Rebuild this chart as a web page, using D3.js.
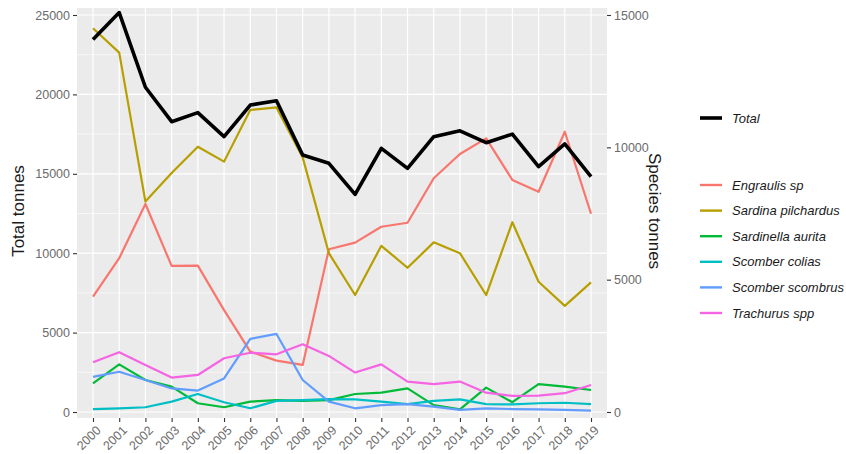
<!DOCTYPE html>
<html>
<head>
<meta charset="utf-8">
<script src="https://cdn.jsdelivr.net/npm/d3@7"></script>
<style>
  html, body { margin: 0; padding: 0; background: #fff; }
  svg { display: block; font-family: "Liberation Sans", Arial, sans-serif; }
</style>
</head>
<body>
<svg id="chart" width="846" height="454"></svg>
<script>
// Annual landings, 2000–2019
const years = ["2000","2001","2002","2003","2004","2005","2006","2007","2008","2009",
               "2010","2011","2012","2013","2014","2015","2016","2017","2018","2019"];

// Total landings (left axis, tonnes)
const total = [23450, 25150, 20450, 18280, 18850, 17340, 19330, 19600, 16180, 15660,
               13700, 16600, 15340, 17340, 17710, 16960, 17500, 15450, 16880, 14820];

// Landings per species (right axis, tonnes)
const engraulis  = [4360, 5810, 7860, 5520, 5530, 3850, 2280, 1940, 1780, 6150,
                    6400, 7000, 7150, 8830, 9750, 10340, 8770, 8320, 10590, 7490];
const sardina    = [14500, 13580, 7950, 9030, 10020, 9460, 11410, 11510, 9620, 6000,
                    4420, 6280, 5450, 6410, 6000, 4420, 7170, 4920, 4010, 4900];
const sardinella = [1080, 1800, 1210, 960, 330, 180, 390, 450, 420, 450,
                    680, 730, 890, 260, 100, 920, 370, 1050, 960, 830];
const colias     = [110, 140, 180, 390, 680, 370, 140, 420, 450, 490,
                    480, 390, 300, 420, 480, 300, 290, 330, 350, 300];
const scombrus   = [1330, 1520, 1210, 890, 810, 1270, 2760, 2950, 1210, 390,
                    140, 260, 300, 200, 80, 140, 110, 100, 80, 50];
const trachurus  = [1880, 2260, 1780, 1300, 1400, 2030, 2240, 2180, 2560, 2120,
                    1490, 1800, 1150, 1050, 1150, 730, 610, 620, 710, 1020];

const speciesNames  = ["Engraulis sp", "Sardina pilchardus", "Sardinella aurita",
                       "Scomber colias", "Scomber scombrus", "Trachurus spp"];
const speciesValues = [engraulis, sardina, sardinella, colias, scombrus, trachurus];
const speciesColors = ["#F8766D", "#B79F00", "#00BA38", "#00BFC4", "#619CFF", "#F564E3"];

const leftTicks  = [0, 5000, 10000, 15000, 20000, 25000];
const rightTicks = [0, 5000, 10000, 15000];

const svg = d3.select("#chart");

// panel geometry
const panel = { left: 77, right: 607, top: 8, bottom: 418 };

const x = d3.scalePoint().domain(years).range([93, 591]);
const yL = d3.scaleLinear().domain([0, 25000]).range([412, 15]);
const yR = d3.scaleLinear().domain([0, 15000]).range([412, 15]);

// panel background
svg.append("rect")
  .attr("x", panel.left).attr("y", panel.top)
  .attr("width", panel.right - panel.left).attr("height", panel.bottom - panel.top)
  .attr("fill", "#EBEBEB");

// minor horizontal grid
const minor = leftTicks.slice(0, -1).map(v => v + 2500);
svg.append("g").selectAll("line").data(minor).join("line")
  .attr("x1", panel.left).attr("x2", panel.right)
  .attr("y1", d => yL(d)).attr("y2", d => yL(d))
  .attr("stroke", "#fff").attr("stroke-width", 0.6);

// major horizontal grid
svg.append("g").selectAll("line").data(leftTicks).join("line")
  .attr("x1", panel.left).attr("x2", panel.right)
  .attr("y1", d => yL(d)).attr("y2", d => yL(d))
  .attr("stroke", "#fff").attr("stroke-width", 1.2);

// vertical grid
svg.append("g").selectAll("line").data(years).join("line")
  .attr("x1", d => x(d)).attr("x2", d => x(d))
  .attr("y1", panel.top).attr("y2", panel.bottom)
  .attr("stroke", "#fff").attr("stroke-width", 1.2);

// left axis
const axL = svg.append("g").attr("transform", `translate(${panel.left},0)`)
  .call(d3.axisLeft(yL).tickValues(leftTicks).tickSize(4).tickPadding(3).tickFormat(d3.format("d")));
// right axis
const axR = svg.append("g").attr("transform", `translate(${panel.right},0)`)
  .call(d3.axisRight(yR).tickValues(rightTicks).tickSize(4).tickPadding(3).tickFormat(d3.format("d")));
// bottom axis
const axB = svg.append("g").attr("transform", `translate(0,${panel.bottom})`)
  .call(d3.axisBottom(x).tickSize(4).tickPadding(2));

[axL, axR, axB].forEach(g => {
  g.select(".domain").remove();
  g.selectAll(".tick line").attr("stroke", "#333").attr("stroke-width", 1.1);
  g.selectAll(".tick text").attr("fill", "#6b6b6b")
    .style("font-size", "12.5px").style("font-family", "'Liberation Sans', Arial, sans-serif");
});
// slanted year labels, ending just below each tick
axB.selectAll(".tick text")
  .attr("x", 0).attr("y", 0)
  .attr("text-anchor", "end")
  .attr("dy", "0.35em")
  .attr("transform", "translate(5,10) rotate(-45)");

// axis titles
svg.append("text")
  .attr("transform", "translate(24,211) rotate(-90)")
  .attr("text-anchor", "middle")
  .style("font-size", "17px").attr("fill", "#1a1a1a")
  .text("Total tonnes");
svg.append("text")
  .attr("transform", "translate(649,211) rotate(90)")
  .attr("text-anchor", "middle")
  .style("font-size", "17px").attr("fill", "#1a1a1a")
  .text("Species tonnes");

// species lines
const lineR = d3.line().x((d, i) => x(years[i])).y(d => yR(d));
svg.append("g").selectAll("path").data(speciesValues).join("path")
  .attr("d", d => lineR(d))
  .attr("fill", "none")
  .attr("stroke", (d, i) => speciesColors[i])
  .attr("stroke-width", 2.2)
  .attr("stroke-linejoin", "round");

// total line
const lineL = d3.line().x((d, i) => x(years[i])).y(d => yL(d));
svg.append("path")
  .attr("d", lineL(total))
  .attr("fill", "none")
  .attr("stroke", "#000")
  .attr("stroke-width", 3.6)
  .attr("stroke-linejoin", "round");

// legend
const leg = svg.append("g");
leg.append("line").attr("x1", 700).attr("x2", 722).attr("y1", 118).attr("y2", 118)
  .attr("stroke", "#000").attr("stroke-width", 3.6);
leg.append("text").attr("x", 732).attr("y", 118).attr("dy", "0.35em")
  .style("font-size", "13px").style("font-style", "italic").attr("fill", "#1a1a1a")
  .text("Total");

const legY = d3.scalePoint().domain(speciesNames).range([185, 313]);
const items = leg.selectAll("g.item").data(speciesNames).join("g").attr("class", "item")
  .attr("transform", d => `translate(0,${legY(d)})`);
items.append("line").attr("x1", 700).attr("x2", 722)
  .attr("stroke", (d, i) => speciesColors[i]).attr("stroke-width", 2.4);
items.append("text").attr("x", 732).attr("dy", "0.35em")
  .style("font-size", "13px").style("font-style", "italic").attr("fill", "#1a1a1a")
  .text(d => d);
</script>
</body>
</html>
